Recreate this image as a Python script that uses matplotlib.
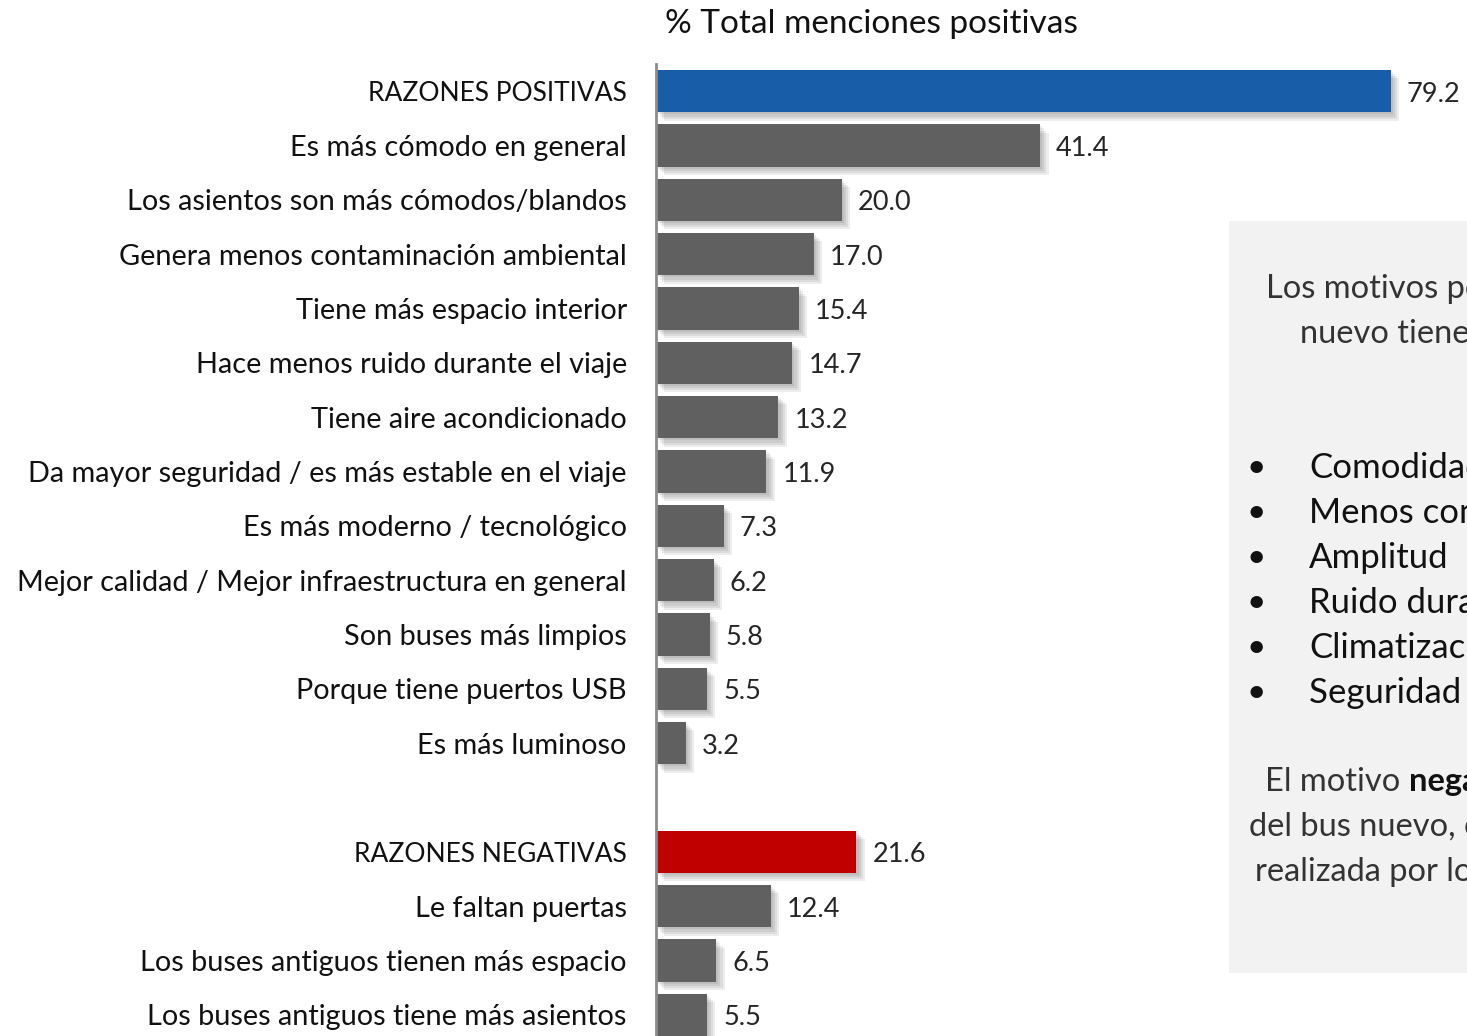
import matplotlib.pyplot as plt
import matplotlib.patheffects as pe
from matplotlib.patches import Rectangle
import numpy as np

plt.rcParams['font.family'] = ['Lato', 'DejaVu Sans']

# data
pos_labels = ["RAZONES POSITIVAS", "Es más cómodo en general",
              "Los asientos son más cómodos/blandos",
              "Genera menos contaminación ambiental",
              "Tiene más espacio interior", "Hace menos ruido durante el viaje",
              "Tiene aire acondicionado",
              "Da mayor seguridad / es más estable en el viaje",
              "Es más moderno / tecnológico",
              "Mejor calidad / Mejor infraestructura en general",
              "Son buses más limpios", "Porque tiene puertos USB",
              "Es más luminoso"]
pos_values = [79.2, 41.4, 20.0, 17.0, 15.4, 14.7, 13.2, 11.9, 7.3, 6.2, 5.8, 5.5, 3.2]
neg_labels = ["RAZONES NEGATIVAS", "Le faltan puertas",
              "Los buses antiguos tienen más espacio",
              "Los buses antiguos tiene más asientos"]
neg_values = [21.6, 12.4, 6.5, 5.5]

title = "% Total menciones positivas"
box_top = ["Los motivos positivos por los que el bus", "nuevo tiene mejor valoración son:"]
bullets = ["Comodidad", "Menos contaminación", "Amplitud", "Ruido durante el viaje",
           "Climatización", "Seguridad y estabilidad"]

BLUE = "#175da8"
GREY = "#606060"
RED = "#c00000"

W, H = 1467, 1036
fig = plt.figure(figsize=(W / 100, H / 100), dpi=100)

# grey comment box behind everything (right side, runs off the edge)
fig.patches.append(Rectangle((1229 / W, 1 - 973 / H), 400 / W, (973 - 221) / H,
                             transform=fig.transFigure, facecolor="#f2f2f2",
                             edgecolor="none", zorder=0))

ax = fig.add_axes([656 / W, 1 - 1042 / H, (W - 656) / W, (1042 - 64) / H])
ax.patch.set_alpha(0)

y_pos = np.arange(len(pos_values))
y_neg = np.arange(len(neg_values)) + len(pos_values) + 1
ys = np.concatenate([y_pos, y_neg])
vals = pos_values + neg_values
labs = pos_labels + neg_labels
cols = [BLUE] + [GREY] * (len(pos_values) - 1) + [RED] + [GREY] * (len(neg_values) - 1)

# soft drop shadow, built from a few faint offset copies
shadow = [pe.SimplePatchShadow(offset=(d, -d), shadow_rgbFace="#000000", alpha=0.07)
          for d in (1.5, 3, 4.5, 6)] + [pe.Normal()]
bars = ax.barh(ys, vals, height=0.78, color=cols, zorder=3)
for b in bars:
    b.set_path_effects(shadow)

for y, v in zip(ys, vals):
    ax.annotate(f"{v:.1f}", (v, y), xytext=(16, -3), textcoords="offset pixels",
                va="center", ha="left", fontsize=19.5, color="#262626")

ax.set_xlim(0, (W - 656) / 9.28)
ax.set_ylim(len(pos_values) + len(neg_values) + 0.5, -0.5)
ax.set_yticks(ys)
ax.set_yticklabels(labs, fontsize=20.8, color="#111111")
for tl in ax.get_yticklabels():
    if tl.get_text().startswith("RAZONES"):
        tl.set_fontsize(19)
ax.tick_params(axis="y", length=0, pad=21)
ax.set_xticks([])
for s in ["top", "right", "bottom"]:
    ax.spines[s].set_visible(False)
ax.spines["left"].set_color("#8c8c8c")
ax.spines["left"].set_linewidth(2)
ax.spines["left"].set_zorder(4)

fig.text(665 / W, 1 - 24 / H, title, fontsize=24, va="center", ha="left",
         color="#111111")

# box text (clipped by the figure edge like the original)
fig.text(1266 / W, 1 - 289 / H, box_top[0], fontsize=23.5, va="center",
         color="#333333")
fig.text(1300 / W, 1 - 334 / H, box_top[1], fontsize=23.5, va="center",
         color="#333333")
for i, t in enumerate(bullets):
    yy = 1 - (468 + 45 * i) / H
    fig.text(1247 / W, yy, "•", fontsize=24, va="center", color="#111111")
    fig.text(1309 / W, yy, t, fontsize=25, va="center", color="#111111")
t1 = fig.text(1265 / W, 1 - 782 / H, "El motivo ", fontsize=23.5, va="center",
              color="#333333")
fig.canvas.draw()
bb = t1.get_window_extent()
fig.text(bb.x1 / W, 1 - 782 / H, "negativo", fontsize=23.5, va="center",
         fontweight="bold", color="#111111")
fig.text(1249 / W, 1 - 827 / H, "del bus nuevo, es la falta de puertas", fontsize=23.5,
         va="center", color="#333333")
fig.text(1255 / W, 1 - 872 / H, "realizada por los usuarios", fontsize=23.5,
         va="center", color="#333333")

fig.savefig("out.png", dpi=100)
